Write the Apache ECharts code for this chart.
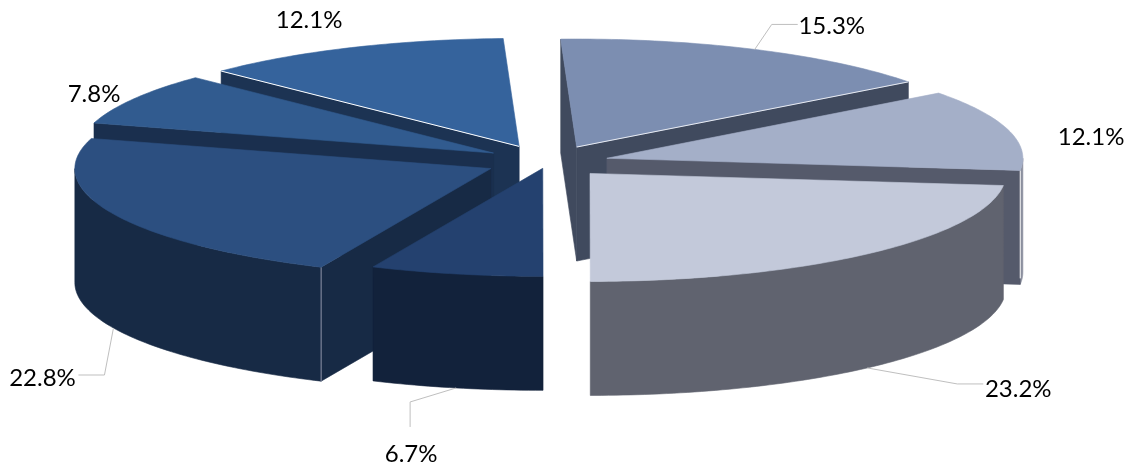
<!DOCTYPE html>
<html>
<head>
<meta charset="utf-8">
<style>html,body{margin:0;padding:0;background:#fff}#c{width:1132px;height:468px}</style>
<script src="https://cdn.jsdelivr.net/npm/echarts@6/dist/echarts.min.js"></script>
</head>
<body>
<div id="c"></div>
<script>
// Data
const values = [15.3, 12.1, 23.2, 6.7, 22.8, 7.8, 12.1];
const labels = ['15.3%', '12.1%', '23.2%', '6.7%', '22.8%', '7.8%', '12.1%'];
const explode = [1, 1, 1, 0.5, 1.05, 1.05, 1.1];

// Styles
const topColors  = ['#7c8eb1', '#a4afc8', '#c3c9da', '#24416f', '#2c4f80', '#315b8f', '#35639c'];
const wallColors = ['#404a5e', '#555a6b', '#60636f', '#12223b', '#172a45', '#1a2f4e', '#1c3353'];
const rimColors  = ['#404a5e', '#8b8f9e', '#60636f', '#12223b', '#172a45', '#1a2f4e', '#1c3353'];
const drawRank = [4, 5, 6, 3, 2, 1, 0];
const nudge = [[1,0],[-1,1],[0,0],[-1,-1],[-2,0],[-2,0],[-4,1]];
// offsets of label centre and leader elbows from the slice's mid-arc anchor
const labelOffset = [[77,-23],[83,8],[151,21],[-45,66],[-71,50],[-40,-4],[-41,-27]];
const leaderOffset = [[[17,-25],[43,-25]], null, [[90,16],[116,16]], [[-46,14],[-46,39]], [[-9,47],[-35,47]], null, null];
// light hairlines seen on some edges: slice index -> edge
const startEdgeLine = { 6: '#ffffff' };
const endEdgeLine = { 0: '#e8ebf2' };
const cornerLine = { 4: '#8f93a8' };

// 3D projection settings
const CX = 550, CY = 161.5, EX = 60, EY = 16, XR = 416, YR = 108, DEPTH = 114, ROT = -2.2;
const total = values.reduce((a, b) => a + b, 0);
const rad = d => d * Math.PI / 180;

function renderSlice(params, api) {
  const i = params.dataIndex;
  const before = values.slice(0, i).reduce((a, b) => a + b, 0);
  const a0 = echarts.number.linearMap(before, [0, total], [ROT, 360 + ROT]);
  const a1 = echarts.number.linearMap(before + api.value(0), [0, total], [ROT, 360 + ROT]);
  const mid = (a0 + a1) / 2;
  const ax = CX + EX * explode[i] * Math.sin(rad(mid)) + nudge[i][0];
  const ay = CY - EY * explode[i] * Math.cos(rad(mid)) + nudge[i][1];
  const pt = (deg, d) => [ax + XR * Math.sin(rad(deg)), ay - YR * Math.cos(rad(deg)) + (d || 0)];
  const z = drawRank[i] * 10;
  const children = [];
  const poly = (points, fill, zz) => children.push({
    type: 'polygon', z2: zz, shape: { points },
    style: { fill, stroke: fill, lineWidth: 0.6 }
  });
  const hair = (points, stroke, zz) => children.push({
    type: 'polyline', z2: zz, shape: { points },
    style: { fill: 'none', stroke, lineWidth: 1 }
  });
  // outer wall, front-facing part only
  const wStart = Math.max(a0, 90), wEnd = Math.min(a1, 270);
  if (wEnd > wStart) {
    const up = [], down = [];
    for (let d = wStart; d < wEnd; d += 1) { up.push(pt(d)); down.unshift(pt(d, DEPTH)); }
    up.push(pt(wEnd)); down.unshift(pt(wEnd, DEPTH));
    poly(up.concat(down), rimColors[i], z + 1);
  }
  // radial walls
  if (Math.sin(rad(a0)) < -0.001) {
    poly([[ax, ay], pt(a0), pt(a0, DEPTH), [ax, ay + DEPTH]], wallColors[i], z + 2);
  }
  if (Math.sin(rad(a1)) > 0.001) {
    poly([[ax, ay], pt(a1), pt(a1, DEPTH), [ax, ay + DEPTH]], wallColors[i], z + 2);
    if (a1 > 90) hair([pt(a1), pt(a1, DEPTH - 6)], '#ffffff', z + 3);
  }
  if (cornerLine[i]) hair([pt(a0), pt(a0, DEPTH)], cornerLine[i], z + 3);
  // top face
  const top = [[ax, ay]];
  for (let d = a0; d < a1; d += 1) top.push(pt(d));
  top.push(pt(a1));
  poly(top, topColors[i], z + 4);
  if (startEdgeLine[i]) hair([pt(a0), [ax, ay]], startEdgeLine[i], z + 5);
  if (endEdgeLine[i]) hair([[ax, ay], pt(a1)], endEdgeLine[i], z + 5);

  // labels
  const depthAt = (mid > 90 && mid < 270) ? DEPTH : 0;
  const anchor = pt(mid, depthAt);
  const lo = labelOffset[i];
  children.push({
    type: 'text', z2: 200,
    style: {
      x: anchor[0] + lo[0], y: anchor[1] + lo[1], text: labels[i],
      fill: '#000', font: '24px Lato', align: 'center', verticalAlign: 'middle'
    }
  });
  if (leaderOffset[i]) {
    const pts = [anchor].concat(leaderOffset[i].map(o => [anchor[0] + o[0], anchor[1] + o[1]]));
    hair(pts, '#bfbfbf', 199);
  }
  return { type: 'group', children };
}

const chart = echarts.init(document.getElementById('c'), null, { renderer: 'canvas' });
chart.setOption({
  animation: false,
  backgroundColor: '#fff',
  series: [{
    type: 'custom',
    coordinateSystem: 'none',
    renderItem: renderSlice,
    data: values.map(v => [v]),
    silent: true
  }]
});
</script>
</body>
</html>
